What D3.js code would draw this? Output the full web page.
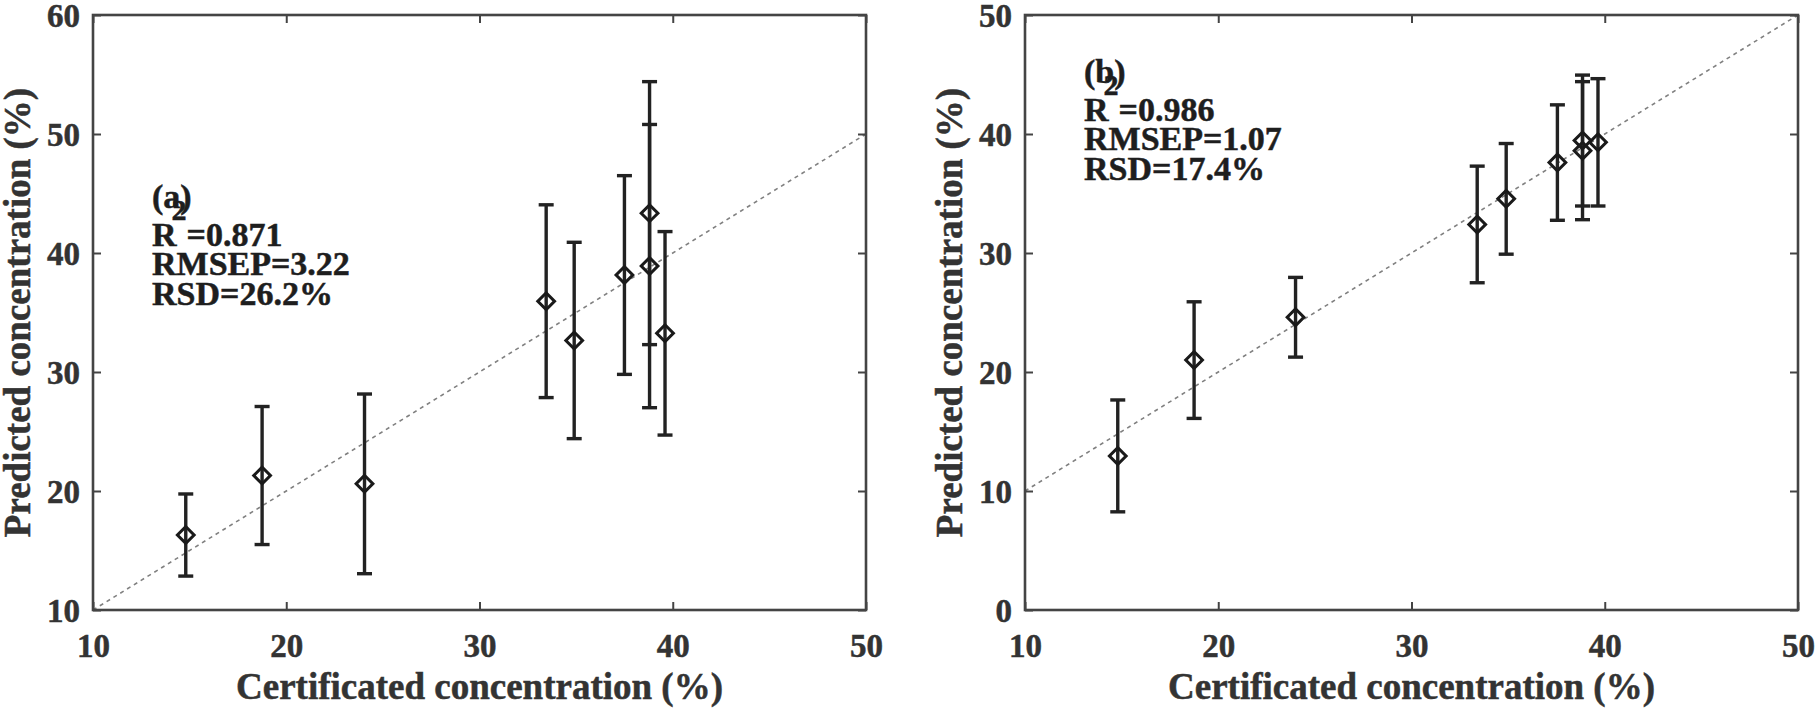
<!DOCTYPE html>
<html>
<head>
<meta charset="utf-8">
<script src="https://cdn.jsdelivr.net/npm/d3@7"></script>
<style>
  body { margin: 0; background: #fff; }
  svg { display: block; }
  text { font-family: "Liberation Serif", "Times New Roman", serif; font-weight: bold; stroke-width: 0.5px; }
</style>
</head>
<body>
<div id="app"></div>
<script>
const OUTER = { width: 1820, height: 712 }
const TICKS_X = [10, 20, 30, 40, 50]
const TICKS_Y_A = [10, 20, 30, 40, 50, 60]
const TICKS_Y_B = [0, 10, 20, 30, 40, 50]

// panel (a)
const certA = [14.8, 18.75, 24.05, 33.45, 34.9, 37.5, 38.8, 38.8, 39.6];
const predA = [16.3, 21.3, 20.6, 35.95, 32.65, 38.15, 43.35, 38.9, 33.25];
const errA = [3.45, 5.8, 7.55, 8.1, 8.25, 8.35, 11.05, 11.9, 8.55];
const statsA = ["(a)", "R|2|=0.871", "RMSEP=3.22", "RSD=26.2%"];

// panel (b)
const certB = [14.8, 18.75, 24.0, 33.4, 34.9, 37.55, 38.85, 38.85, 39.65];
const predB = [12.95, 21.0, 24.6, 32.4, 34.55, 37.6, 39.45, 38.6, 39.3];
const errB = [4.7, 4.9, 3.35, 4.9, 4.65, 4.85, 5.5, 5.8, 5.35];
const statsB = ["(b)", "R|2|=0.986", "RMSEP=1.07", "RSD=17.4%"];

const X_TITLE = "Certificated concentration (%)"
const Y_TITLE = "Predicted concentration (%)"

const PANELS = [
  { left: 93, cert: certA, pred: predA, err: errA, stats: statsA, yDomain: [10, 60], yTicks: TICKS_Y_A, textTop: 193 },
  { left: 1025, cert: certB, pred: predB, err: errB, stats: statsB, yDomain: [0, 50], yTicks: TICKS_Y_B, textTop: 68 },
]
const TOP = 15
const INNER = { width: 773, height: 595 }
const LINE_OFFSETS = [0, 38, 66.5, 96.5]

const svg = d3.select('#app')
  .append('svg')
  .attr('width', OUTER.width)
  .attr('height', OUTER.height);

const drawPanel = (p) => {
  const xScale = d3.scaleLinear().domain([10, 50]).range([0, INNER.width]);
  const yScale = d3.scaleLinear().domain(p.yDomain).range([INNER.height, 0]);

  const g = svg.append('g')
    .attr('transform', `translate(${p.left}, ${TOP})`);

  // diagonal y = x
  const lo = Math.max(10, p.yDomain[0]);
  g.append('line')
    .attr('x1', xScale(lo)).attr('y1', yScale(lo))
    .attr('x2', xScale(50)).attr('y2', yScale(50))
    .attr('stroke', '#808080')
    .attr('stroke-width', 1.6)
    .attr('stroke-dasharray', '4,4');

  // axes: inward ticks on all four sides
  const styleAxis = sel => {
    sel.select('.domain').remove();
    sel.selectAll('line').attr('stroke', '#444').attr('stroke-width', 2);
  }
  const styleLabels = s => s.selectAll('text')
    .attr('fill', '#333').attr('stroke', '#333').style('font-size', '33px');
  g.append('g')
    .attr('transform', `translate(0, ${INNER.height})`)
    .call(d3.axisBottom(xScale).tickValues(TICKS_X).tickSizeInner(-8).tickSizeOuter(0))
    .call(styleAxis)
    .call(styleLabels)
    .call(s => s.selectAll('text').attr('y', 35).attr('dy', '0.35em'));
  g.append('g')
    .call(d3.axisTop(xScale).tickValues(TICKS_X).tickSizeInner(-8).tickSizeOuter(0).tickFormat(''))
    .call(styleAxis);
  g.append('g')
    .call(d3.axisLeft(yScale).tickValues(p.yTicks).tickSizeInner(-8).tickSizeOuter(0))
    .call(styleAxis)
    .call(styleLabels)
    .call(s => s.selectAll('text').attr('x', -13).attr('dy', '0.35em'));
  g.append('g')
    .attr('transform', `translate(${INNER.width}, 0)`)
    .call(d3.axisRight(yScale).tickValues(p.yTicks).tickSizeInner(-8).tickSizeOuter(0).tickFormat(''))
    .call(styleAxis);

  g.append('rect')
    .attr('width', INNER.width)
    .attr('height', INNER.height)
    .attr('fill', 'none')
    .attr('stroke', '#444')
    .attr('stroke-width', 2.6);

  // error bars
  const pts = p.cert.map((c, i) => ({ x: c, y: p.pred[i], e: p.err[i] }));
  const bars = g.append('g')
    .attr('stroke', '#222')
    .attr('stroke-width', 3.4);
  bars.selectAll('.stem')
    .data(pts).join('line')
    .attr('x1', d => xScale(d.x)).attr('x2', d => xScale(d.x))
    .attr('y1', d => yScale(d.y - d.e)).attr('y2', d => yScale(d.y + d.e));
  ['lo', 'hi'].forEach(k => {
    bars.selectAll('.cap-' + k)
      .data(pts).join('line')
      .attr('class', 'cap-' + k)
      .attr('x1', d => xScale(d.x) - 7.5).attr('x2', d => xScale(d.x) + 7.5)
      .attr('y1', d => yScale(k === 'lo' ? d.y - d.e : d.y + d.e))
      .attr('y2', d => yScale(k === 'lo' ? d.y - d.e : d.y + d.e));
  });

  // diamonds
  g.selectAll('.pt')
    .data(pts).join('path')
    .attr('d', d3.symbol().type(d3.symbolSquare).size(140))
    .attr('transform', d => `translate(${xScale(d.x)}, ${yScale(d.y)}) rotate(45)`)
    .attr('fill', 'none')
    .attr('stroke', '#1a1a1a')
    .attr('stroke-width', 3);

  // stats text
  p.stats.forEach((s, i) => {
    const t = g.append('text')
      .attr('x', 59)
      .attr('y', p.textTop + LINE_OFFSETS[i])
      .attr('fill', '#1e1e1e')
      .attr('stroke', '#1e1e1e')
      .style('font-size', '34px');
    const parts = s.split('|');
    if (parts.length === 3) {
      t.append('tspan').text(parts[0]);
      t.append('tspan').attr('dx', -5).attr('dy', -26).style('font-size', '30px').text(parts[1]);
      t.append('tspan').attr('dy', 26).text(parts[2]);
    } else {
      t.text(s);
    }
  });

  // titles
  g.append('text')
    .attr('x', INNER.width / 2)
    .attr('y', 684)
    .attr('text-anchor', 'middle')
    .attr('fill', '#333')
    .attr('stroke', '#333')
    .style('font-size', '37px')
    .text(X_TITLE);
  g.append('text')
    .attr('transform', `translate(-63, ${INNER.height / 2}) rotate(-90)`)
    .attr('text-anchor', 'middle')
    .attr('fill', '#333')
    .attr('stroke', '#333')
    .style('font-size', '37px')
    .text(Y_TITLE);
}

PANELS.forEach(drawPanel);
</script>
</body>
</html>
